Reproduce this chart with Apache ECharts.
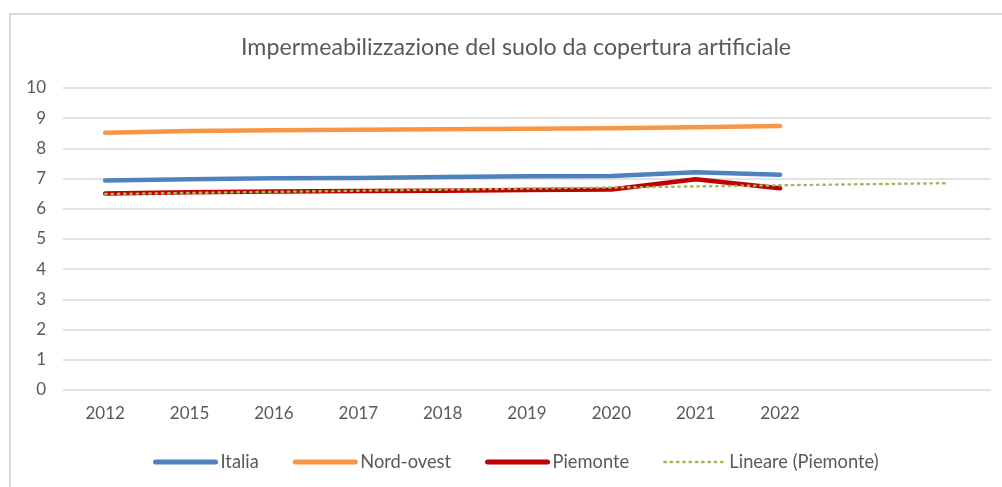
<!DOCTYPE html>
<html>
<head>
<meta charset="utf-8">
<script src="https://cdn.jsdelivr.net/npm/echarts@6/dist/echarts.min.js"></script>
<style>
  html, body { margin: 0; padding: 0; background: #fff; }
  #chart { width: 1002px; height: 487px; }
</style>
</head>
<body>
<div id="chart"></div>
<script>
// Anni (le ultime due posizioni servono solo alla proiezione della linea di tendenza)
const years = ['2012', '2015', '2016', '2017', '2018', '2019', '2020', '2021', '2022', '', ''];

// Percentuale di suolo impermeabilizzato
const italia    = [6.94, 6.98, 7.01, 7.02, 7.05, 7.08, 7.09, 7.21, 7.13];
const nordOvest = [8.52, 8.58, 8.60, 8.62, 8.63, 8.65, 8.67, 8.70, 8.74];
const piemonte  = [6.51, 6.55, 6.57, 6.59, 6.60, 6.62, 6.64, 6.98, 6.68];

// Tendenza lineare (Piemonte): estremo iniziale e finale della retta
const trendStart = 6.49;
const trendEnd = 6.85;
const trendPiemonte = years.map((_, i) => i === 0 ? trendStart : (i === years.length - 1 ? trendEnd : null));

const FONT = 'Lato';
const GREY = '#595959';

const chart = echarts.init(document.getElementById('chart'), null, { renderer: 'canvas' });

function solid(name, data, color) {
  return {
    name, type: 'line', data,
    symbol: 'none', smooth: false,
    lineStyle: { color, width: 4.5, cap: 'round', join: 'round' },
    itemStyle: { color },
    z: 3
  };
}

const thickIcon = { lineStyle: { width: 5, cap: 'round' } };

chart.setOption({
  backgroundColor: '#fff',
  animation: false,
  title: {
    text: 'Impermeabilizzazione del suolo da copertura artificiale',
    left: 236, top: 31,
    textStyle: { fontFamily: FONT, fontSize: 23.2, fontWeight: 'normal', color: GREY }
  },
  graphic: [{
    type: 'rect',
    shape: { x: 10, y: 14, width: 1010, height: 500 },
    style: { fill: 'none', stroke: '#d9d9d9', lineWidth: 2 },
    silent: true
  }],
  grid: { left: 63, right: 11, top: 88, bottom: 97, containLabel: false },
  xAxis: {
    type: 'category', data: years, boundaryGap: true,
    axisLine: { show: false }, axisTick: { show: false },
    axisLabel: { fontFamily: FONT, fontSize: 17, color: GREY, margin: 15 }
  },
  yAxis: {
    type: 'value', min: 0, max: 10, interval: 1,
    axisLine: { show: false }, axisTick: { show: false },
    axisLabel: { fontFamily: FONT, fontSize: 17, color: GREY, margin: 17 },
    splitLine: { lineStyle: { color: '#d9d9d9', width: 1.5 } }
  },
  legend: {
    bottom: 11, left: 148,
    itemWidth: 60, itemHeight: 14, itemGap: 34,
    itemStyle: { opacity: 0 },
    textStyle: { fontFamily: FONT, fontSize: 18.3, color: GREY },
    data: [
      Object.assign({ name: 'Italia' }, thickIcon),
      Object.assign({ name: 'Nord-ovest' }, thickIcon),
      Object.assign({ name: 'Piemonte' }, thickIcon),
      { name: 'Lineare (Piemonte)', lineStyle: { width: 2.4 } }
    ]
  },
  series: [
    solid('Italia', italia, '#4f81bd'),
    solid('Nord-ovest', nordOvest, '#f79646'),
    solid('Piemonte', piemonte, '#c00000'),
    {
      name: 'Lineare (Piemonte)', type: 'line', data: trendPiemonte,
      connectNulls: true, symbol: 'none',
      lineStyle: { color: '#9bbb59', width: 2.4, type: [1.5, 4.8], cap: 'round' },
      itemStyle: { color: '#9bbb59' },
      z: 4
    }
  ]
});
</script>
</body>
</html>
